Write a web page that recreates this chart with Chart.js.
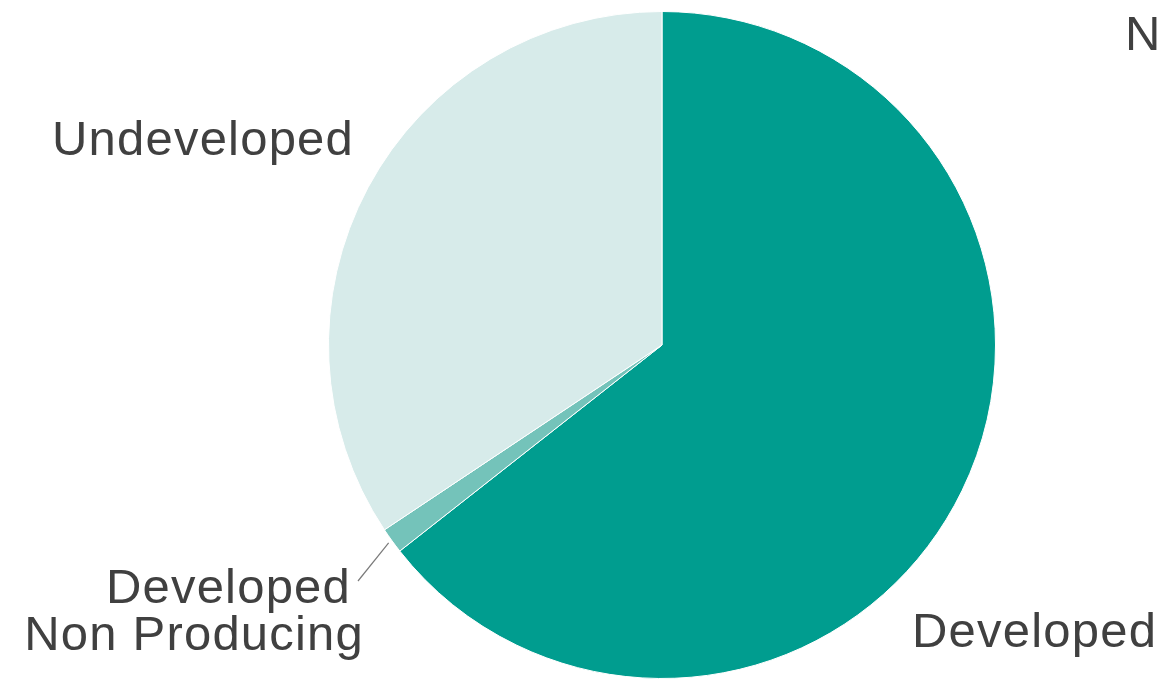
<!DOCTYPE html>
<html>
<head>
<meta charset="utf-8">
<script src="https://cdn.jsdelivr.net/npm/chart.js@4"></script>
<style>
  html, body { margin: 0; padding: 0; background: #ffffff; }
  #wrap { width: 1160px; height: 679px; }
</style>
</head>
<body>
<div id="wrap"><canvas id="chart"></canvas></div>
<script>
// categories and shares (percent of total)
const categories = ['Developed', 'Developed Non Producing', 'Undeveloped'];
const shares = [64.4, 1.25, 34.35];
const sliceColors = ['#009d8f', '#74c3ba', '#d7ebea'];

// text on the picture
const labelFont = '49px "Liberation Sans", Arial, sans-serif';
const textColor = '#404040';

// draws the slice labels around the pie, placed from the arc geometry
const sliceLabels = {
  id: 'sliceLabels',
  afterDraw(chart) {
    const ctx = chart.ctx;
    const arc = chart.getDatasetMeta(0).data[0];
    const cx = arc.x, cy = arc.y, r = arc.outerRadius;

    ctx.save();
    ctx.font = labelFont;
    ctx.fillStyle = textColor;
    ctx.letterSpacing = '1.2px';
    ctx.textBaseline = 'alphabetic';

    // Undeveloped, upper left
    ctx.textAlign = 'right';
    ctx.fillText(categories[2], cx - 308, cy - 190);

    // Developed Non Producing, two lines with a leader line
    ctx.fillText('Developed', cx - 311, cy + 258);
    ctx.fillText('Non Producing', cx - 298, cy + 305);

    // Developed, lower right
    ctx.textAlign = 'left';
    ctx.fillText(categories[0], cx + 250, cy + 302);

    // truncated heading at the top right
    ctx.fillText('N', cx + 463, cy - 295);

    // leader line to the thin slice
    const meta = chart.getDatasetMeta(0).data[1];
    const mid = (meta.startAngle + meta.endAngle) / 2;
    const x0 = cx + Math.cos(mid) * (r + 4);
    const y0 = cy + Math.sin(mid) * (r + 4);
    ctx.strokeStyle = '#7a7a7a';
    ctx.lineWidth = 1.2;
    ctx.beginPath();
    ctx.moveTo(x0, y0);
    ctx.lineTo(cx - 304, cy + 236);
    ctx.stroke();
    ctx.restore();
  }
};

new Chart(document.getElementById('chart'), {
  type: 'pie',
  data: {
    labels: categories,
    datasets: [{
      data: shares,
      backgroundColor: sliceColors,
      borderColor: '#ffffff',
      borderWidth: 1
    }]
  },
  options: {
    responsive: true,
    maintainAspectRatio: false,
    animation: false,
    layout: { padding: { left: 328, right: 164, top: 11, bottom: 0 } },
    plugins: {
      legend: { display: false },
      tooltip: { enabled: false }
    }
  },
  plugins: [sliceLabels]
});
</script>
</body>
</html>
